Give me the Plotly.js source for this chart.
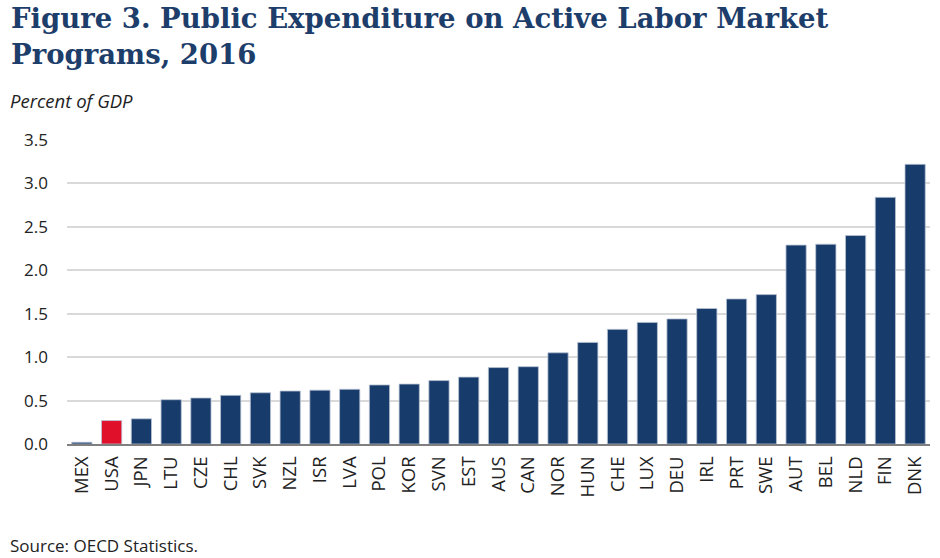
<!DOCTYPE html>
<html>
<head>
<meta charset="utf-8">
<script src="https://cdn.plot.ly/plotly-3.0.1.min.js"></script>
<style>html,body{margin:0;padding:0;background:#fff;}#chart{width:940px;height:558px;}</style>
</head>
<body>
<div id="chart"></div>
<script>
const countries = ["MEX","USA","JPN","LTU","CZE","CHL","SVK","NZL","ISR","LVA","POL","KOR","SVN","EST","AUS","CAN","NOR","HUN","CHE","LUX","DEU","IRL","PRT","SWE","AUT","BEL","NLD","FIN","DNK"];
const values = [0.02,0.27,0.29,0.51,0.53,0.56,0.59,0.61,0.62,0.63,0.68,0.69,0.73,0.77,0.88,0.89,1.05,1.17,1.32,1.40,1.44,1.56,1.67,1.72,2.29,2.30,2.40,2.84,3.22];
const highlight = "USA";
const navy = "#173b6b";
const red = "#e0102a";
const colors = countries.map(c => c === highlight ? red : navy);

const trace = {
  type: "bar",
  x: countries,
  y: values,
  marker: {color: colors, line: {color: "#b9c3d3", width: 0.8}},
  hoverinfo: "x+y"
};

const plotTop = 140, plotBottom = 444, plotLeft = 67, plotRight = 930;
const ph = plotBottom - plotTop, pw = plotRight - plotLeft;
const py = p => (plotBottom - p) / ph;
const px = p => (p - plotLeft) / pw;

const layout = {
  width: 940, height: 558,
  margin: {l: plotLeft, r: 940 - plotRight, t: plotTop, b: 558 - plotBottom},
  paper_bgcolor: "#fff", plot_bgcolor: "#fff",
  bargap: 0.32,
  showlegend: false,
  xaxis: {
    type: "category",
    tickangle: -90,
    tickfont: {family: "Open Sans", size: 18.5, color: "#222"},
    showline: true, linecolor: "#7f7f7f", linewidth: 2,
    ticks: "", showgrid: false,
    ticklabelstandoff: 3,
    range: [-0.5, 28.5]
  },
  yaxis: {
    range: [0, 3.5],
    dtick: 0.5,
    tickformat: ".1f",
    tickfont: {family: "Open Sans", size: 17, color: "#222"},
    gridcolor: "#d9d9d9", gridwidth: 2,
    zeroline: false, showline: false, ticks: "",
    ticklabelstandoff: 18
  },
  annotations: [
    {text: "<b>Figure 3. Public Expenditure on Active Labor Market<br>Programs, 2016</b>",
     xref: "paper", yref: "paper", x: px(9), xanchor: "left", y: py(0), yanchor: "top",
     align: "left", showarrow: false,
     font: {family: "DejaVu Serif", size: 27.5, color: "#1d3d6b"}},
    {text: "<i>Percent of GDP</i>", xref: "paper", yref: "paper",
     x: px(8), xanchor: "left", y: py(101), yanchor: "middle",
     showarrow: false, font: {family: "Open Sans", size: 18.5, color: "#222"}},
    {text: "Source: OECD Statistics.", xref: "paper", yref: "paper",
     x: px(8), xanchor: "left", y: py(545), yanchor: "middle",
     showarrow: false, font: {family: "Open Sans", size: 17, color: "#222"}}
  ]
};

Plotly.newPlot("chart", [trace], layout, {displayModeBar: false, staticPlot: true});
</script>
</body>
</html>
